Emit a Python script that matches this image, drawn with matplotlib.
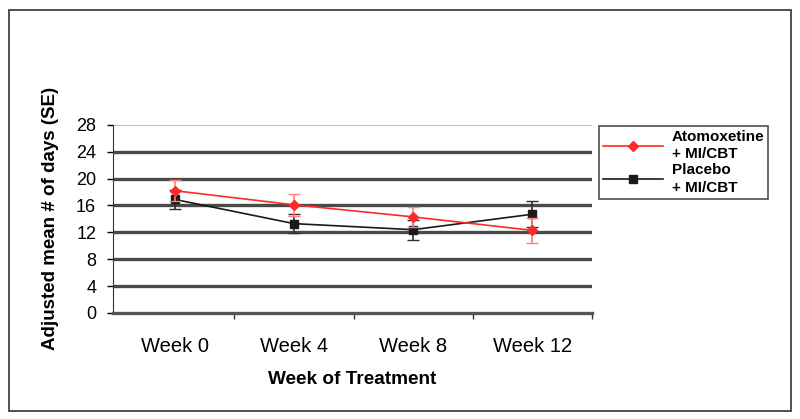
import matplotlib.pyplot as plt
from matplotlib.lines import Line2D
from matplotlib.patches import Rectangle

plt.rcParams["font.family"] = ["Liberation Sans", "DejaVu Sans"]

weeks = ["Week 0", "Week 4", "Week 8", "Week 12"]
atomox_mean = [18.2, 16.1, 14.3, 12.3]
atomox_se = [1.6, 1.6, 1.5, 1.9]
placebo_mean = [16.9, 13.3, 12.4, 14.7]
placebo_se = [1.4, 1.4, 1.5, 1.9]
y_ticks = [0, 4, 8, 12, 16, 20, 24, 28]

red = "#ff2a2a"
black = "#1a1a1a"

fig = plt.figure(figsize=(8, 4.19), dpi=100)
ax = fig.add_axes([0.141, 0.253, 0.599, 0.449])

x = list(range(len(weeks)))

# horizontal gridlines like the Excel chart
for t in y_ticks[1:-1]:
    ax.axhline(t, color="#4a4a4a", lw=2.4, zorder=1)
ax.axhline(28, color="#b0b0b0", lw=1.2, zorder=1)

ax.errorbar(x, atomox_mean, yerr=atomox_se, color=red, ecolor="#ff8080",
            marker="D", markersize=5, lw=1.2, elinewidth=1.2, capsize=4,
            zorder=4)
ax.errorbar(x, placebo_mean, yerr=placebo_se, color=black, ecolor="#303030",
            marker="s", markersize=6, lw=1.2, elinewidth=1.2, capsize=4,
            zorder=3)

ax.set_xlim(-0.52, 3.5)
ax.set_ylim(0, 28)
ax.set_yticks(y_ticks)
ax.set_xticks(x)
ax.set_xticklabels(weeks, fontsize=14.5)
ax.tick_params(axis="y", labelsize=13, length=4, width=1, pad=8)
ax.tick_params(axis="x", length=0, pad=17)
# minor ticks between categories on the x axis
ax.set_xticks([0.5, 1.5, 2.5, 3.5], minor=True)
ax.tick_params(axis="x", which="minor", length=4, width=1, color="#333333")

for s in ["top", "right"]:
    ax.spines[s].set_visible(False)
ax.spines["left"].set_color("#333333")
ax.spines["bottom"].set_color("#555555")
ax.spines["bottom"].set_linewidth(2.4)

ax.set_ylabel("Adjusted mean # of days (SE)", fontsize=13.5, fontweight="bold",
              labelpad=12)
ax.set_xlabel("Week of Treatment", fontsize=13.7, fontweight="bold", labelpad=11)

handles = [
    Line2D([], [], color=red, marker="D", markersize=5, lw=1.2),
    Line2D([], [], color=black, marker="s", markersize=6, lw=1.2),
]
labels = ["Atomoxetine\n+ MI/CBT", "Placebo\n+ MI/CBT"]
leg = ax.legend(handles, labels, loc="upper left", bbox_to_anchor=(1.015, 0.995),
                prop={"weight": "bold", "size": 11}, frameon=True,
                fancybox=False, edgecolor="#222222", borderpad=0.25,
                handlelength=3.9, handletextpad=0.6, labelspacing=0.1,
                borderaxespad=0)
for t in leg.get_texts():
    t.set_linespacing(1.35)
leg.get_frame().set_linewidth(1.2)

# outer chart border
fig.patches.append(Rectangle((0.011, 0.02), 0.978, 0.957, transform=fig.transFigure,
                             fill=False, edgecolor="#333333", lw=1.2))

fig.savefig("out.png", dpi=100)
